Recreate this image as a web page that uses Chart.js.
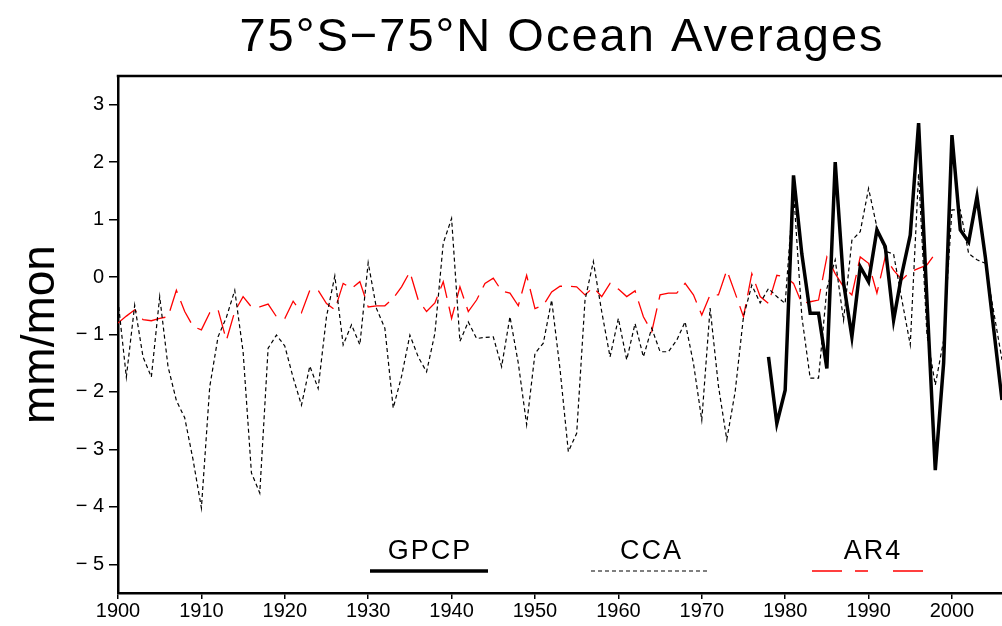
<!DOCTYPE html>
<html>
<head>
<meta charset="utf-8">
<title>75°S-75°N Ocean Averages</title>
<script src="https://cdn.jsdelivr.net/npm/chart.js@4.4.0/dist/chart.umd.min.js"></script>
<style>
  html, body { margin: 0; padding: 0; background: #fff; }
  #wrap { width: 1002px; height: 626px; }
</style>
</head>
<body>
<div id="wrap"><canvas id="chart" width="1002" height="626"></canvas></div>
<script>
// annual anomalies (mm/mon), one value per year from the start year
const gpcpStart = 1978;
const gpcp = [
  -1.39, -2.55, -1.97, 1.77, 0.40, -0.63, -0.63, -1.59, 2.00, -0.10,
  -1.04, 0.18, -0.08, 0.82, 0.53, -0.75, 0.06, 0.73, 2.68, -0.40,
  -3.36, -1.50, 2.47, 0.82, 0.61, 1.40, 0.35, -0.90, -2.14
];

const ccaStart = 1900;
const cca = [
  -0.40, -1.74, -0.49, -1.39, -1.74, -0.34, -1.56, -2.15, -2.45, -3.18,
  -4.02, -1.91, -1.04, -0.70, -0.23, -1.30, -3.41, -3.76, -1.24, -1.01,
  -1.20, -1.75, -2.23, -1.55, -1.94, -0.69, 0.02, -1.18, -0.83, -1.18,
  0.25, -0.55, -0.89, -2.28, -1.73, -1.01, -1.39, -1.65, -0.98, 0.59,
  1.02, -1.12, -0.78, -1.07, -1.05, -1.04, -1.56, -0.69, -1.50, -2.57,
  -1.33, -1.15, -0.40, -1.60, -3.04, -2.72, -0.40, 0.27, -0.60, -1.39,
  -0.72, -1.44, -0.81, -1.39, -0.89, -1.30, -1.30, -1.10, -0.78, -1.50,
  -2.49, -0.54, -1.90, -2.83, -2.00, -0.69, -0.14, -0.45, -0.20, -0.34,
  -0.46, 1.51, -0.69, -1.76, -1.76, -0.20, 0.30, -0.75, 0.64, 0.79,
  1.54, 0.87, 0.45, 0.40, -0.40, -1.18, 1.80, -1.00, -1.88, -1.10,
  1.17, 1.17, 0.41, 0.30, 0.24, -0.60, -1.44
];

const ar4Start = 1900;
const ar4 = [
  -0.80, -0.68, -0.57, -0.74, -0.76, -0.72, -0.69, -0.23, -0.60, -0.86,
  -0.92, -0.62, -0.57, -1.10, -0.60, -0.34, -0.52, -0.52, -0.47, -0.69,
  -0.72, -0.42, -0.62, -0.23, -0.23, -0.46, -0.57, -0.11, -0.20, -0.08,
  -0.52, -0.50, -0.50, -0.37, -0.17, 0.09, -0.40, -0.60, -0.45, -0.08,
  -0.72, -0.17, -0.60, -0.40, -0.11, -0.02, -0.24, -0.28, -0.50, 0.03,
  -0.55, -0.49, -0.26, -0.16, -0.16, -0.17, -0.31, -0.18, -0.34, -0.11,
  -0.21, -0.34, -0.24, -0.69, -0.95, -0.31, -0.28, -0.28, -0.11, -0.31,
  -0.66, -0.31, -0.31, 0.12, -0.28, -0.69, 0.06, -0.34, -0.46, 0.03,
  0.01, -0.11, -0.46, -0.43, -0.40, 0.35, 0.06, -0.17, -0.31, 0.35,
  0.24, -0.28, 0.35, 0.12, -0.05, 0.09, 0.15, 0.21, 0.41
];

const xTicks = [1900, 1910, 1920, 1930, 1940, 1950, 1960, 1970, 1980, 1990, 2000];
const yTicks = [-5, -4, -3, -2, -1, 0, 1, 2, 3];

const titleText = '75°S\u221275°N Ocean Averages';
const FONT = "'Liberation Sans', 'DejaVu Sans', sans-serif";

const toPoints = (start, vals) => vals.map((v, i) => ({ x: start + i, y: v }));

// legend drawn inside the plot, near the bottom
const legendItems = [
  { label: 'GPCP', x0: 370, x1: 488, color: '#000', width: 3.5, dash: [] },
  { label: 'CCA',  x0: 591, x1: 710, color: '#000', width: 1.2, dash: [4, 3] },
  { label: 'AR4',  x0: 812, x1: 932, color: '#ff0000', width: 1.4, dash: [30, 13, 13, 25] }
];

const boxPlugin = {
  id: 'boxAndLegend',
  afterDraw(chart) {
    const { ctx, chartArea: a } = chart;
    ctx.save();
    // top frame line
    ctx.strokeStyle = '#000';
    ctx.lineWidth = 2.5;
    ctx.beginPath();
    ctx.moveTo(a.left - 1.25, a.top);
    ctx.lineTo(a.right, a.top);
    ctx.stroke();

    // title, centred over the plot
    ctx.fillStyle = '#000';
    ctx.textAlign = 'center';
    ctx.textBaseline = 'alphabetic';
    ctx.letterSpacing = '2px';
    ctx.font = '47px ' + FONT;
    ctx.fillText(titleText, (a.left + a.right) / 2 + 2, 51);

    ctx.font = '27px ' + FONT;
    legendItems.forEach(it => {
      ctx.fillStyle = '#000';
      ctx.fillText(it.label, (it.x0 + it.x1) / 2 + 1, 559);
      ctx.strokeStyle = it.color;
      ctx.lineWidth = it.width;
      ctx.setLineDash(it.dash);
      ctx.beginPath();
      ctx.moveTo(it.x0, 571);
      ctx.lineTo(it.x1, 571);
      ctx.stroke();
    });
    ctx.restore();
  }
};

new Chart(document.getElementById('chart'), {
  type: 'line',
  data: {
    datasets: [
      {
        label: 'GPCP',
        data: toPoints(gpcpStart, gpcp),
        borderColor: '#000',
        borderWidth: 3.5,
        order: 0
      },
      {
        label: 'CCA',
        data: toPoints(ccaStart, cca),
        borderColor: '#000',
        borderWidth: 1.2,
        borderDash: [4, 3],
        order: 1
      },
      {
        label: 'AR4',
        data: toPoints(ar4Start, ar4),
        borderColor: '#ff0000',
        borderWidth: 1.3,
        borderDash: [24, 9],
        order: 2
      }
    ]
  },
  options: {
    responsive: false,
    animation: false,
    layout: { padding: { top: 76, left: 0, right: 0, bottom: 0 } },
    elements: {
      point: { radius: 0 },
      line: { tension: 0, fill: false }
    },
    plugins: {
      legend: { display: false },
      tooltip: { enabled: false },
      title: { display: false }
    },
    scales: {
      x: {
        type: 'linear',
        min: 1900,
        max: 2006,
        afterBuildTicks: axis => { axis.ticks = xTicks.map(v => ({ value: v })); },
        afterFit: axis => { axis.height = 33; },
        border: { color: '#000', width: 2.5 },
        grid: { drawOnChartArea: false, drawTicks: true, tickLength: 6, color: '#000', lineWidth: 1.5 },
        ticks: {
          autoSkip: false,
          maxRotation: 0,
          padding: 0,
          color: '#000',
          font: { family: FONT, size: 20 },
          callback: v => String(v)
        }
      },
      y: {
        type: 'linear',
        min: -5.5,
        max: 3.5,
        afterBuildTicks: axis => { axis.ticks = yTicks.map(v => ({ value: v })); },
        afterFit: axis => { axis.width = 118; },
        border: { color: '#000', width: 2.5 },
        grid: { drawOnChartArea: false, drawTicks: true, tickLength: 9, color: '#000', lineWidth: 1.5 },
        ticks: {
          padding: 5,
          color: '#000',
          font: { family: FONT, size: 20 },
          callback: v => (v < 0 ? '\u2212 ' + Math.abs(v) : String(v))
        },
        title: {
          display: true,
          text: 'mm/mon',
          color: '#000',
          font: { family: FONT, size: 46 },
          padding: { top: 14, bottom: 0 }
        }
      }
    }
  },
  plugins: [boxPlugin]
});
</script>
</body>
</html>
